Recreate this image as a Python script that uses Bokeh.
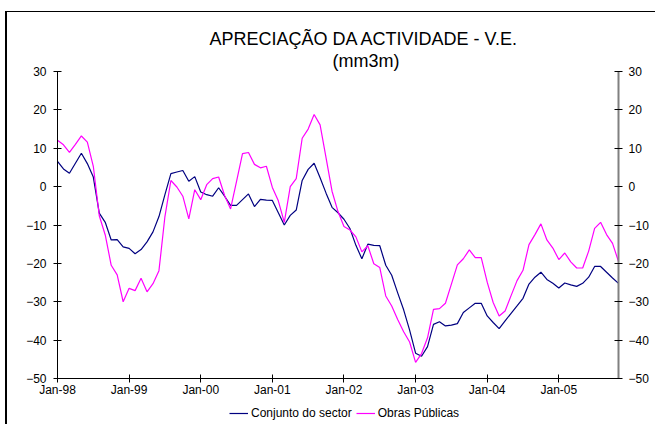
from bokeh.plotting import figure
from bokeh.layouts import column
from bokeh.models import Range1d, LinearAxis, FixedTicker, Legend, LegendItem, Title, ColumnDataSource
from bokeh.embed import file_html
from bokeh.resources import INLINE

# Monthly data, Jan-98 .. Nov-05 (95 months)
month_names = ["Jan", "Feb", "Mar", "Apr", "May", "Jun", "Jul", "Aug", "Sep", "Oct", "Nov", "Dec"]
years = ["98", "99", "00", "01", "02", "03", "04", "05"]
months = [f"{m}-{y}" for y in years for m in month_names][:95]

conjunto = [6.6, 4.6, 3.5, 6.1, 8.7, 6.0, 2.5, -6.9, -9.3, -13.9, -13.8, -15.7,
            -16.1, -17.5, -16.4, -14.4, -11.8, -7.8, -2.1, 3.4, 3.8, 4.2, 1.4, 2.6,
            -1.4, -2.1, -2.5, -0.3, -2.5, -4.9, -4.9, -3.4, -1.9, -5.2, -3.3, -3.5,
            -3.6, -6.8, -10.0, -7.5, -6.1, 1.6, 4.5, 6.1, 2.3, -1.7, -5.4, -6.8,
            -8.5, -10.9, -15.3, -18.8, -15.0, -15.3, -15.4, -20.5, -23.1, -27.7, -32.1, -37.4,
            -43.4, -44.2, -41.7, -35.9, -35.2, -36.3, -36.1, -35.7, -32.8, -31.6, -30.4, -30.4,
            -33.7, -35.4, -37.0, -35.0, -33.0, -31.1, -29.1, -25.4, -23.6, -22.3, -24.2, -25.2,
            -26.4, -25.1, -25.6, -26.0, -25.2, -23.6, -20.8, -20.8, -22.3, -23.8, -25.2]

obras = [12.1, 10.9, 8.9, 11.0, 13.2, 11.6, 5.3, -7.6, -12.6, -20.5, -23.0, -30.0,
         -26.5, -27.1, -23.9, -27.4, -25.3, -21.9, -7.8, 1.6, -0.1, -2.5, -8.4, -0.8,
         -3.4, 0.5, 2.1, 2.5, -2.3, -5.8, 1.4, 8.6, 8.9, 5.8, 4.9, 5.3,
         -0.2, -3.7, -9.3, 0.0, 2.1, 12.6, 15.0, 18.8, 16.1, 7.5, -1.2, -6.5,
         -10.4, -11.3, -13.1, -17.0, -15.4, -20.1, -21.1, -28.5, -31.1, -34.6, -37.8, -40.5,
         -45.8, -43.5, -39.4, -32.0, -31.8, -30.4, -25.4, -20.4, -18.8, -16.5, -18.5, -18.5,
         -24.9, -30.2, -33.7, -32.4, -28.4, -24.5, -21.8, -15.1, -12.5, -9.7, -13.9, -16.0,
         -19.0, -17.3, -19.6, -21.2, -21.2, -16.8, -10.9, -9.3, -12.5, -14.8, -19.5]

series_names = ["Conjunto do sector", "Obras Públicas"]
series_cols = ["conjunto", "obras"]
series_colors = ["#000080", "#FF00FF"]

tick_labels = ["Jan-98", "Jan-99", "Jan-00", "Jan-01", "Jan-02", "Jan-03", "Jan-04", "Jan-05"]
y_ticks = [-50, -40, -30, -20, -10, 0, 10, 20, 30]

idx = list(range(len(months)))
tick_pos = [months.index(t) for t in tick_labels]

src = ColumnDataSource(dict(x=idx, month=months, conjunto=conjunto, obras=obras))

FONT = "Liberation Sans"

# ---- main chart ----
p = figure(width=648, height=388,
           x_range=Range1d(0, len(months) - 1), y_range=Range1d(-50, 30),
           output_backend="svg", toolbar_location=None,
           min_border_left=50, min_border_right=37, min_border_top=59, min_border_bottom=22,
           x_axis_location="below", y_axis_location="left")
p.background_fill_color = "white"
p.border_fill_color = "white"
p.outline_line_color = None
p.grid.visible = False

def style_axis(ax, line_color="black"):
    ax.axis_line_color = line_color
    ax.axis_line_width = 1
    ax.major_tick_line_color = "black"
    ax.major_tick_in = 4
    ax.major_tick_out = 4
    ax.minor_tick_line_color = None
    ax.major_label_text_font = FONT
    ax.major_label_text_font_size = "12px"
    ax.major_label_text_color = "black"

xa = p.xaxis[0]
xa.ticker = FixedTicker(ticks=tick_pos)
xa.major_label_overrides = {pos: lab for pos, lab in zip(tick_pos, tick_labels)}
style_axis(xa)
xa.major_label_standoff = 0

ya = p.yaxis[0]
ya.ticker = FixedTicker(ticks=y_ticks)
style_axis(ya)
ya.major_label_standoff = 7

yr = LinearAxis(ticker=FixedTicker(ticks=y_ticks))
style_axis(yr, line_color="#808080")
yr.axis_line_width = 2
yr.major_label_standoff = 6
p.add_layout(yr, "right")

for col, color in zip(series_cols, series_colors):
    p.line("x", col, source=src, line_color=color, line_width=1.2)

sub = Title(text="(mm3m)", text_font=FONT, text_font_size="18px", text_font_style="normal",
            text_color="black", align="left", offset=275, standoff=1)
main = Title(text="APRECIAÇÃO DA ACTIVIDADE - V.E.", text_font=FONT, text_font_size="18px",
             text_font_style="normal", text_color="black", align="left", offset=152, standoff=0)
p.add_layout(sub, "above")
p.add_layout(main, "above")

# ---- legend strip below the chart (series drawn out of view, only legend shows) ----
lg = figure(width=648, height=24, x_range=Range1d(0, 1), y_range=Range1d(1000, 1001),
            output_backend="svg", toolbar_location=None,
            x_axis_location=None, y_axis_location=None,
            min_border_left=0, min_border_right=0, min_border_top=0, min_border_bottom=0)
lg.outline_line_color = None
lg.grid.visible = False
lg.background_fill_color = "white"
lg.border_fill_color = "white"

items = []
for name, col, color in zip(series_names, series_cols, series_colors):
    r = lg.line("x", col, source=src, line_color=color, line_width=1.2)
    items.append(LegendItem(label=name, renderers=[r]))

legend = Legend(items=items, orientation="horizontal", location=(172, 4),
                padding=2, spacing=4, label_standoff=3, glyph_width=19, glyph_height=14,
                label_text_font=FONT, label_text_font_size="12px", label_text_color="black",
                border_line_color=None, background_fill_alpha=0, margin=0)
lg.add_layout(legend, "center")

layout = column(p, lg, spacing=0,
                styles={"margin-top": "11px", "margin-left": "5px",
                        "border-top": "1px solid #000000", "border-left": "2px solid #000000"})

open("out.html", "w").write(file_html(layout, INLINE))
